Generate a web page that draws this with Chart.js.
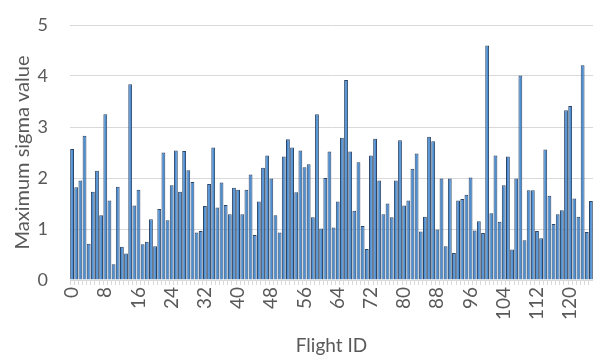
<!DOCTYPE html>
<html>
<head>
<meta charset="utf-8">
<script src="https://cdn.jsdelivr.net/npm/chart.js@4"></script>
<style>
  html, body { margin: 0; padding: 0; background: #fff; }
  #chart { display: block; }
</style>
</head>
<body>
<canvas id="chart" width="593" height="359"></canvas>
<script>
// flight ids 0..125
var flightIds = [];
for (var i = 0; i < 126; i++) flightIds.push(String(i));

var maxSigma = [
  2.57, 1.82, 1.95, 2.83, 0.71, 1.73, 2.14, 1.27, 3.25, 1.56,
  0.31, 1.83, 0.65, 0.52, 3.84, 1.46, 1.77, 0.70, 0.75, 1.19,
  0.66, 1.39, 2.50, 1.17, 1.86, 2.54, 1.73, 2.53, 2.15, 1.92,
  0.93, 0.96, 1.45, 1.88, 2.60, 1.42, 1.91, 1.47, 1.29, 1.81,
  1.77, 1.29, 1.77, 2.07, 0.88, 1.54, 2.20, 2.44, 1.99, 1.27,
  0.93, 2.42, 2.76, 2.60, 1.72, 2.54, 2.21, 2.27, 1.23, 3.25,
  1.01, 2.00, 2.52, 1.03, 1.54, 2.79, 3.92, 2.52, 1.36, 2.31,
  1.06, 0.61, 2.44, 2.77, 1.95, 1.29, 1.50, 1.23, 1.95, 2.74,
  1.46, 1.56, 2.18, 2.48, 0.95, 1.24, 2.81, 2.72, 0.99, 1.99,
  0.66, 1.99, 0.53, 1.56, 1.59, 1.67, 2.01, 0.97, 1.15, 0.92,
  4.60, 1.31, 2.44, 1.14, 1.86, 2.42, 0.60, 1.99, 4.01, 0.78,
  1.76, 1.76, 0.96, 0.82, 2.56, 1.65, 1.10, 1.29, 1.37, 3.33,
  3.41, 1.60, 1.24, 4.21, 0.94, 1.55
];

var labelEvery = 8;
var yTicks = [0, 1, 2, 3, 4, 5];

var textColor = '#595959';
var gridColor = '#d9d9d9';
var fontFamily = 'Lato, "Open Sans", sans-serif';

var ctx = document.getElementById('chart');
var sigmaChart = new Chart(ctx, {
  type: 'bar',
  data: {
    labels: flightIds,
    datasets: [{
      label: 'Maximum sigma value',
      data: maxSigma,
      backgroundColor: '#4d8fd3',
      borderColor: '#2c4566',
      borderWidth: 1,
      barPercentage: 0.92,
      categoryPercentage: 1.0
    }]
  },
  options: {
    responsive: false,
    animation: false,
    layout: { padding: { top: 25, right: 0, left: 0, bottom: 0 } },
    plugins: {
      legend: { display: false },
      tooltip: { enabled: false }
    },
    scales: {
      x: {
        afterFit: function (scale) {
          scale.height = 79;
          scale.paddingLeft = 0;
          scale.paddingRight = 0;
        },
        grid: {
          display: true,
          drawOnChartArea: false,
          drawTicks: true,
          tickLength: 5,
          color: gridColor
        },
        border: { display: true, color: gridColor },
        ticks: {
          autoSkip: false,
          minRotation: 90,
          maxRotation: 90,
          padding: 2,
          color: textColor,
          font: { family: fontFamily, size: 19 },
          callback: function (value, index) {
            return index % labelEvery === 0 ? this.getLabelForValue(value) : '';
          }
        },
        title: {
          display: true,
          text: 'Flight ID',
          color: textColor,
          font: { family: fontFamily, size: 19 },
          padding: { top: 0, bottom: 2 }
        }
      },
      y: {
        min: yTicks[0],
        max: yTicks[yTicks.length - 1],
        afterFit: function (scale) {
          scale.width = 70;
          scale.paddingTop = 0;
          scale.paddingBottom = 0;
        },
        afterBuildTicks: function (scale) {
          scale.ticks = yTicks.map(function (v) { return { value: v }; });
        },
        grid: { color: gridColor, drawTicks: false },
        border: { display: false },
        ticks: {
          padding: 22,
          color: textColor,
          font: { family: fontFamily, size: 18 }
        },
        title: {
          display: true,
          text: 'Maximum sigma value',
          color: textColor,
          font: { family: fontFamily, size: 20 },
          padding: { top: 11, bottom: 0 }
        }
      }
    }
  }
});
</script>
</body>
</html>
